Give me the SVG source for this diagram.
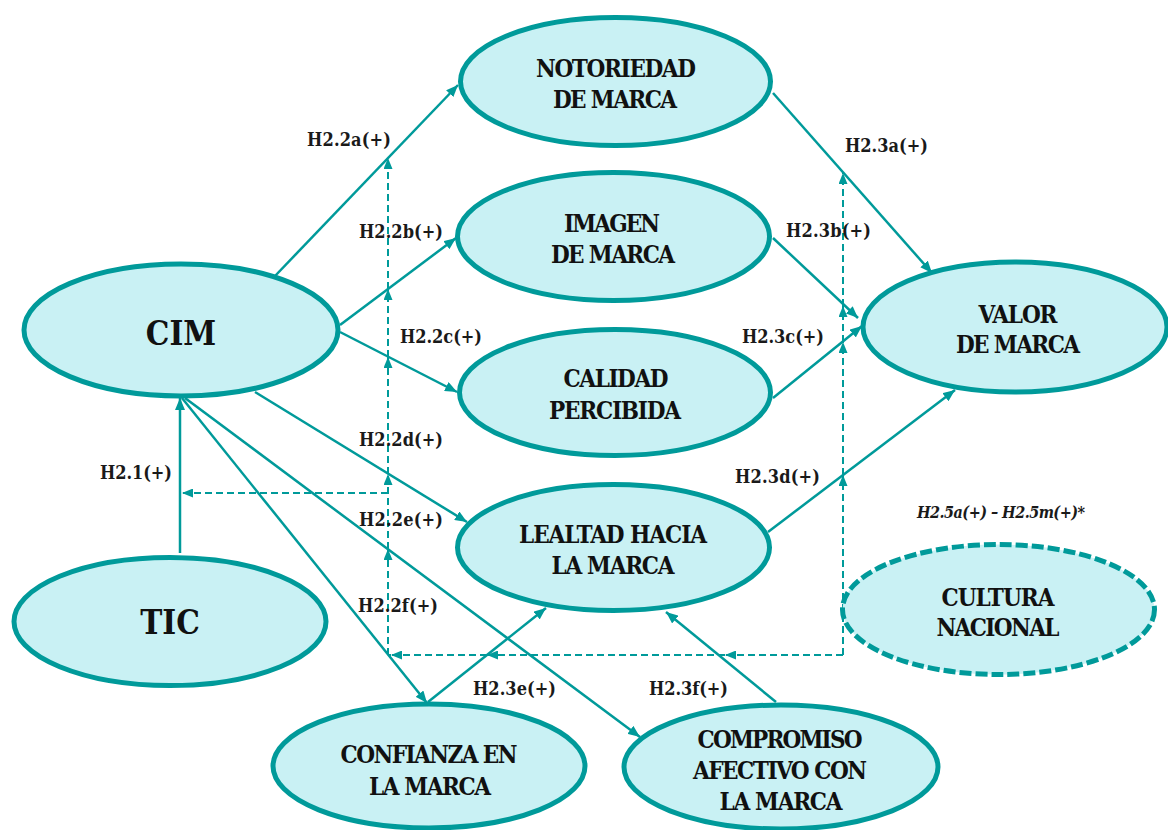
<svg xmlns="http://www.w3.org/2000/svg" width="1168" height="830" viewBox="0 0 1168 830">
<defs>
<style>
.node{fill:#c9f1f4;stroke:#009a9a;stroke-width:5}
.dnode{fill:#c9f1f4;stroke:#009a9a;stroke-width:5;stroke-dasharray:12 4}
.t{font-family:"DejaVu Serif Condensed","DejaVu Serif",serif;font-weight:bold;fill:#111;text-anchor:middle;font-size:24px}
.big{font-size:33px}
.lab{font-family:"DejaVu Serif Condensed","DejaVu Serif",serif;font-weight:bold;fill:#1a1a1a;font-size:18px}
.it{font-style:italic;font-size:16px}
.ln{fill:none;stroke:#009a9a;stroke-width:2.5}
.dl{fill:none;stroke:#009a9a;stroke-width:2;stroke-dasharray:7 4}
</style>
<marker id="a" viewBox="0 0 12 10" refX="12" refY="5" markerWidth="12" markerHeight="10" markerUnits="userSpaceOnUse" orient="auto"><path d="M0,0 L12,5 L0,10 z" fill="#009a9a"/></marker>
<marker id="d" viewBox="0 0 11 9" refX="11" refY="4.5" markerWidth="11" markerHeight="9" markerUnits="userSpaceOnUse" orient="auto"><path d="M0,0 L11,4.5 L0,9 z" fill="#009a9a"/></marker>
</defs>
<rect width="1168" height="830" fill="#fff"/>
<g id="connectors">
<path class="ln" marker-end="url(#a)" d="M275,276 L458,85"/>
<path class="ln" marker-end="url(#a)" d="M340,325 L456,238"/>
<path class="ln" marker-end="url(#a)" d="M340,332 L457,392"/>
<path class="ln" marker-end="url(#a)" d="M255,392 L467,522"/>
<path class="ln" marker-end="url(#a)" d="M182,398 L427,703"/>
<path class="ln" marker-end="url(#a)" d="M185,398 L640,737"/>
<path class="ln" marker-end="url(#a)" d="M180,553 L180,398"/>
<path class="ln" marker-end="url(#a)" d="M773,93 L932,273"/>
<path class="ln" marker-end="url(#a)" d="M773,238 L858,318"/>
<path class="ln" marker-end="url(#a)" d="M773,398 L862,326"/>
<path class="ln" marker-end="url(#a)" d="M768,532 L955,390"/>
<path class="ln" marker-end="url(#a)" d="M428,702 L546,608"/>
<path class="ln" marker-end="url(#a)" d="M776,702 L666,612"/>
<path class="dl" marker-end="url(#d)" d="M388,655 L388,549"/>
<path class="dl" marker-end="url(#d)" d="M388,549 L388,474"/>
<path class="dl" marker-end="url(#d)" d="M388,474 L388,357"/>
<path class="dl" marker-end="url(#d)" d="M388,357 L388,289"/>
<path class="dl" marker-end="url(#d)" d="M388,289 L388,158"/>
<path class="dl" marker-end="url(#d)" d="M388,493 L182,493"/>
<path class="dl" marker-end="url(#d)" d="M843,655 L725,655"/>
<path class="dl" marker-end="url(#d)" d="M725,655 L487,655"/>
<path class="dl" marker-end="url(#d)" d="M487,655 L391,655"/>
<path class="dl" d="M391,655 L388,655"/>
<path class="dl" marker-end="url(#d)" d="M843,655 L843,475"/>
<path class="dl" marker-end="url(#d)" d="M843,475 L843,342"/>
<path class="dl" marker-end="url(#d)" d="M843,342 L843,306"/>
<path class="dl" marker-end="url(#d)" d="M843,306 L843,173"/>
</g>
<g id="labels">
<text class="lab" x="307" y="146" textLength="84">H2.2a(+)</text>
<text class="lab" x="359" y="238" textLength="84">H2.2b(+)</text>
<text class="lab" x="400" y="343" textLength="82">H2.2c(+)</text>
<text class="lab" x="359" y="446" textLength="84">H2.2d(+)</text>
<text class="lab" x="359" y="526" textLength="84">H2.2e(+)</text>
<text class="lab" x="358" y="612" textLength="80">H2.2f(+)</text>
<text class="lab" x="100" y="479" textLength="72">H2.1(+)</text>
<text class="lab" x="845" y="152" textLength="83">H2.3a(+)</text>
<text class="lab" x="786" y="237" textLength="85">H2.3b(+)</text>
<text class="lab" x="742" y="343" textLength="82">H2.3c(+)</text>
<text class="lab" x="735" y="483" textLength="85">H2.3d(+)</text>
<text class="lab" x="473" y="695" textLength="83">H2.3e(+)</text>
<text class="lab" x="649" y="695" textLength="79">H2.3f(+)</text>
<text class="lab it" x="917" y="518" textLength="168">H2.5a(+) – H2.5m(+)*</text>
</g>
<g id="n-notoriedad"><ellipse class="node" cx="615.5" cy="81.5" rx="155" ry="64"/><text class="t" x="616" y="77" textLength="160">NOTORIEDAD</text><text class="t" x="615" y="108" textLength="124">DE MARCA</text></g>
<g id="n-imagen"><ellipse class="node" cx="613.5" cy="236.5" rx="156" ry="64"/><text class="t" x="612" y="232" textLength="96">IMAGEN</text><text class="t" x="613" y="263" textLength="124">DE MARCA</text></g>
<g id="n-calidad"><ellipse class="node" cx="615" cy="392.5" rx="155.5" ry="63"/><text class="t" x="616" y="387" textLength="105">CALIDAD</text><text class="t" x="615" y="419" textLength="132">PERCIBIDA</text></g>
<g id="n-lealtad"><ellipse class="node" cx="613.5" cy="547.5" rx="156" ry="63"/><text class="t" x="613" y="543" textLength="188">LEALTAD HACIA</text><text class="t" x="613" y="574" textLength="123">LA MARCA</text></g>
<g id="n-valor"><ellipse class="node" cx="1015" cy="327" rx="152" ry="65"/><text class="t" x="1018" y="323" textLength="79">VALOR</text><text class="t" x="1018" y="353" textLength="124">DE MARCA</text></g>
<g id="n-cim"><ellipse class="node" cx="181" cy="330" rx="157" ry="66"/><text class="t big" x="181" y="345">CIM</text></g>
<g id="n-tic"><ellipse class="node" cx="170" cy="621.5" rx="156" ry="64"/><text class="t big" x="170" y="634">TIC</text></g>
<g id="n-confianza"><ellipse class="node" cx="429" cy="766" rx="156" ry="62"/><text class="t" x="429" y="763" textLength="177">CONFIANZA EN</text><text class="t" x="430" y="795" textLength="122">LA MARCA</text></g>
<g id="n-compromiso"><ellipse class="node" cx="781" cy="767" rx="157" ry="62"/><text class="t" x="780" y="748" textLength="165">COMPROMISO</text><text class="t" x="780" y="779" textLength="174">AFECTIVO CON</text><text class="t" x="781" y="810" textLength="123">LA MARCA</text></g>
<g id="n-cultura"><ellipse class="dnode" cx="998.5" cy="609.5" rx="156" ry="65"/><text class="t" x="998" y="606" textLength="113">CULTURA</text><text class="t" x="998" y="636" textLength="123">NACIONAL</text></g>
</svg>
